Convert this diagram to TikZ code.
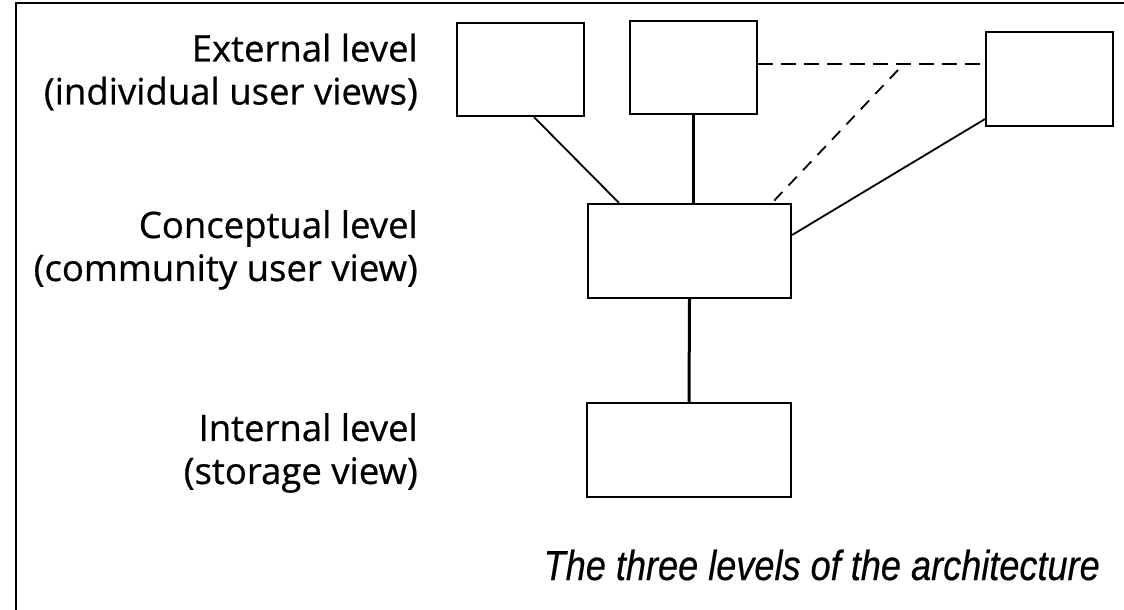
\documentclass[tikz,border=0pt]{standalone}
\usepackage{fontspec}
\setmainfont{Open Sans}[FakeBold=0.6]
\newfontfamily\capfont[FakeStretch=0.86,FakeBold=0.4]{Liberation Sans}
\begin{document}
\begin{tikzpicture}[x=1pt,y=-1pt,
  box/.style={draw, line width=2.2pt, inner sep=0pt, minimum width=127pt, minimum height=93pt},
  bigbox/.style={box, minimum width=203pt, minimum height=94pt},
  link/.style={line width=1.8pt},
  thicklink/.style={line width=2.5pt},
  dashlink/.style={line width=1.8pt, dash pattern=on 15pt off 8pt},
  levellabel/.style={anchor=east, align=right, inner sep=0pt, font=\fontsize{36.5}{43}\selectfont},
  caption/.style={anchor=east, inner sep=0pt, font=\capfont\itshape\fontsize{42}{46}\selectfont}]
  \useasboundingbox (0,0) rectangle (1124,610);
  % outer frame: only the top and left edges lie inside the page
  \draw[line width=2.6pt] (16,615) -- (16,3) -- (1130,3);

  % level labels
  \node[levellabel] (ext) at (418,72)  {External level\\(individual user views)};
  \node[levellabel] (con) at (418,250) {Conceptual level\\(community user view)};
  \node[levellabel] (int) at (418,453) {Internal level\\(storage view)};

  % external views
  \node[box] (e1) at (520.5,69.5) {};
  \node[box] (e2) at (693.5,67.5) {};
  \node[box, minimum height=94pt] (e3) at (1049.5,79) {};
  % conceptual and internal schemas
  \node[bigbox] (c) at (689.5,251) {};
  \node[bigbox, minimum width=204pt] (i) at (689,450) {};

  % mappings
  \draw[link] ([xshift=13.5pt]e1.south) -- ([xshift=-70.5pt]c.north);
  \draw[thicklink] (e2.south) -- (e2.south |- c.north);
  \draw[link] ([yshift=8pt]e3.south west) -- ([yshift=16pt]c.east);
  \draw[line width=3pt] (c.south) -- (i.north);

  % shared (dashed) mapping between views
  \coordinate (fork) at (898,70);
  \draw[dashlink] ([yshift=3.5pt]e2.east) -- ([yshift=3.5pt]e2.east -| e3.west);
  \draw[dashlink, dash pattern=on 12pt off 9pt] (fork) -- ([xshift=82.5pt]c.north);

  % caption
  \node[caption] (cap) at (1100,565) {The three levels of the architecture};
\end{tikzpicture}
\end{document}
